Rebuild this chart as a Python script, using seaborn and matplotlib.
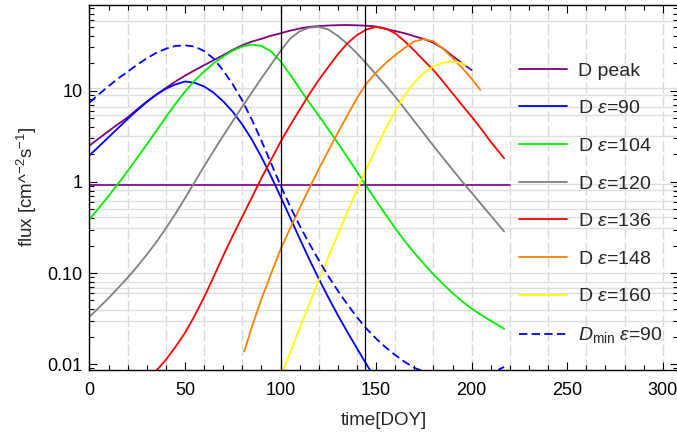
import matplotlib
matplotlib.use("Agg")
import matplotlib.pyplot as plt
import matplotlib.ticker as mticker
import seaborn as sns

# ---- flux curves (time in day of year, flux in cm^-2 s^-1) ----
t_peak = list(range(0, 205, 5))
flux_peak = [2.5, 3.0, 3.6, 4.3, 5.1, 6.25, 7.6, 9.1, 10.7, 12.6, 14.6, 16.7, 19.0,
             21.6, 24.5, 28.0, 31.5, 34.5, 37.0, 40.0, 42.5, 45.5, 48.0, 50.0, 51.0,
             51.8, 52.2, 52.4, 52.0, 51.5, 50.5, 47.5, 45.0, 42.5, 39.5, 36.8, 33.5,
             29.0, 24.0, 20.0, 16.8]

t_threshold = [0, 220]
flux_threshold = [0.92, 0.92]

t_e90 = list(range(0, 155, 5))
flux_e90 = [1.95, 2.45, 3.09, 3.89, 4.90, 6.10, 7.50, 9.02, 10.5, 11.7, 12.6, 12.2,
            11.1, 9.48, 7.62, 5.85, 4.24, 2.90, 1.87, 1.15, 0.687, 0.405, 0.238,
            0.142, 0.0865, 0.0540, 0.0344, 0.0225, 0.0149, 0.00993, 0.00671]

t_e104 = list(range(0, 215, 5)) + [217]
flux_e104 = [0.389, 0.519, 0.700, 0.955, 1.32, 1.84, 2.57, 3.63, 5.13, 7.16, 9.77,
             12.9, 16.2, 20.0, 23.7, 27.5, 30.5, 32.0, 30.9, 26.9, 20.9, 15.0, 10.5,
             7.41, 5.31, 3.76, 2.66, 1.86, 1.29, 0.891, 0.624, 0.437, 0.309, 0.224,
             0.166, 0.126, 0.0966, 0.0759, 0.0603, 0.0490, 0.0407, 0.0347, 0.0299,
             0.0245]

t_e120 = list(range(0, 215, 5)) + [217]
flux_e120 = [0.0332, 0.0418, 0.0532, 0.0686, 0.0893, 0.118, 0.159, 0.219, 0.310,
             0.448, 0.662, 0.991, 1.48, 2.19, 3.21, 4.63, 6.70, 9.57, 13.7, 19.3,
             27.3, 37.2, 44.7, 49.0, 50.1, 46.8, 39.8, 32.4, 25.7, 19.7, 15.0, 11.4,
             8.57, 6.31, 4.62, 3.39, 2.48, 1.83, 1.36, 1.01, 0.759, 0.569, 0.427,
             0.285]

t_e136 = list(range(35, 215, 5)) + [217]
flux_e136 = [0.0085, 0.0112, 0.0155, 0.0221, 0.0339, 0.0543, 0.0912, 0.155, 0.257,
             0.417, 0.676, 1.10, 1.74, 2.75, 4.17, 6.17, 9.12, 13.1, 18.2, 25.1,
             33.1, 40.7, 46.8, 50.1, 47.9, 42.5, 34.7, 27.5, 21.4, 16.8, 12.6, 9.33,
             6.92, 5.18, 3.80, 2.75, 1.81]

t_e148 = [81] + list(range(85, 205, 5)) + [204.5]
flux_e148 = [0.0138, 0.0257, 0.0519, 0.0977, 0.182, 0.309, 0.513, 0.851, 1.38, 2.19,
             3.47, 5.37, 8.32, 12.0, 15.8, 20.0, 24.5, 29.5, 34.7, 36.7, 34.7, 28.8,
             22.9, 17.8, 13.5, 10.2]

t_e160 = list(range(100, 200, 5)) + [197]
flux_e160 = [0.00724, 0.0135, 0.0248, 0.0457, 0.0832, 0.150, 0.266, 0.468, 0.813,
             1.40, 2.34, 3.85, 6.03, 8.91, 12.3, 15.7, 18.4, 20.2, 20.8, 20.0, 18.9]

t_min90 = list(range(0, 175, 5)) + [180, 190, 200, 210, 217]
flux_min90 = [7.40, 9.16, 11.2, 13.6, 16.1, 19.3, 22.6, 26.0, 28.8, 30.9, 31.4, 30.4,
              27.2, 22.4, 16.6, 11.7, 7.76, 4.79, 2.82, 1.60, 0.912, 0.537, 0.331,
              0.211, 0.138, 0.0923, 0.0638, 0.0452, 0.0327, 0.0245, 0.0191, 0.0153,
              0.0126, 0.0106, 0.00912, 0.00759, 0.00692, 0.00708, 0.00794, 0.00933]

marker_days = [100, 144]
flux_gridlines = [58, 10.6, 9.0, 6.6, 5.4, 3.2, 0.95, 0.82, 0.62, 0.5, 0.41, 0.31,
                  0.1, 0.08, 0.068, 0.06, 0.039, 0.03]

series = [
    ("D peak", t_peak, flux_peak, "#800080", "-"),
    ("D $\\varepsilon$=90", t_e90, flux_e90, "#0000ff", "-"),
    ("D $\\varepsilon$=104", t_e104, flux_e104, "#00ee00", "-"),
    ("D $\\varepsilon$=120", t_e120, flux_e120, "#808080", "-"),
    ("D $\\varepsilon$=136", t_e136, flux_e136, "#ff0000", "-"),
    ("D $\\varepsilon$=148", t_e148, flux_e148, "#ff8000", "-"),
    ("D $\\varepsilon$=160", t_e160, flux_e160, "#ffff00", "-"),
    ("$D_{\\mathrm{min}}$ $\\varepsilon$=90", t_min90, flux_min90, "#0000ff",
     (0, (4.6, 2.4))),
]

sns.set_theme(style="ticks")
plt.rcParams["font.family"] = ["Liberation Sans", "DejaVu Sans"]
plt.rcParams["mathtext.fontset"] = "custom"
plt.rcParams["mathtext.rm"] = "Liberation Sans"
plt.rcParams["mathtext.it"] = "Liberation Sans:italic"

fig = plt.figure(figsize=(6.77, 4.37), dpi=100)
ax = fig.add_axes([0.1322, 0.1533, 0.8693, 0.8364])
ax.set_yscale("log")
ax.set_xlim(0, 308)
ax.set_ylim(0.00864, 88)

# background grid
for gx in range(20, 301, 20):
    ax.axvline(gx, color="#d9d9d9", lw=1.0, ls=(0, (8, 2.5)), zorder=0)
for gy in flux_gridlines:
    ax.axhline(gy, color="#dedede", lw=1.0, zorder=0)

# curves
sns.lineplot(x=t_threshold, y=flux_threshold, ax=ax, color="#800080", lw=1.2,
             estimator=None, sort=False, legend=False)
for label, t, f, col, ls in series:
    sns.lineplot(x=t, y=f, ax=ax, color=col, lw=1.3, linestyle=ls,
                 estimator=None, sort=False, label=label)

for d in marker_days:
    ax.axvline(d, color="black", lw=0.9, zorder=5)

# axes styling
ax.xaxis.set_major_locator(mticker.MultipleLocator(50))
ax.xaxis.set_minor_locator(mticker.MultipleLocator(10))
ax.yaxis.set_major_locator(mticker.FixedLocator([0.01, 0.1, 1, 10]))
ax.yaxis.set_major_formatter(mticker.FixedFormatter(["0.01", "0.10", "1", "10"]))
ax.yaxis.set_minor_locator(mticker.LogLocator(base=10, subs=range(2, 10)))
ax.yaxis.set_minor_formatter(mticker.NullFormatter())
ax.tick_params(which="both", direction="in", top=True, right=True,
               labelsize=13, colors="black", width=0.8)
ax.tick_params(which="major", length=6)
ax.tick_params(which="minor", length=3.5)
ax.tick_params(axis="x", which="major", pad=8.5)
ax.tick_params(axis="y", which="major", pad=5)
for s in ax.spines.values():
    s.set_color("black")
    s.set_linewidth(1.0)

ax.set_xlabel("time[DOY]", fontsize=13.5, labelpad=9.5)
ax.set_ylabel("flux [cm^$^{-2}$s$^{-1}$]", fontsize=13.5, labelpad=6)

ax.legend(loc="upper left", bbox_to_anchor=(519 / 677, 1 - 62 / 437),
          bbox_transform=fig.transFigure, frameon=False, fontsize=14,
          handlelength=2.47, handletextpad=0.57, labelspacing=1.03,
          borderpad=0, borderaxespad=0)

fig.savefig("out.png", dpi=100)
